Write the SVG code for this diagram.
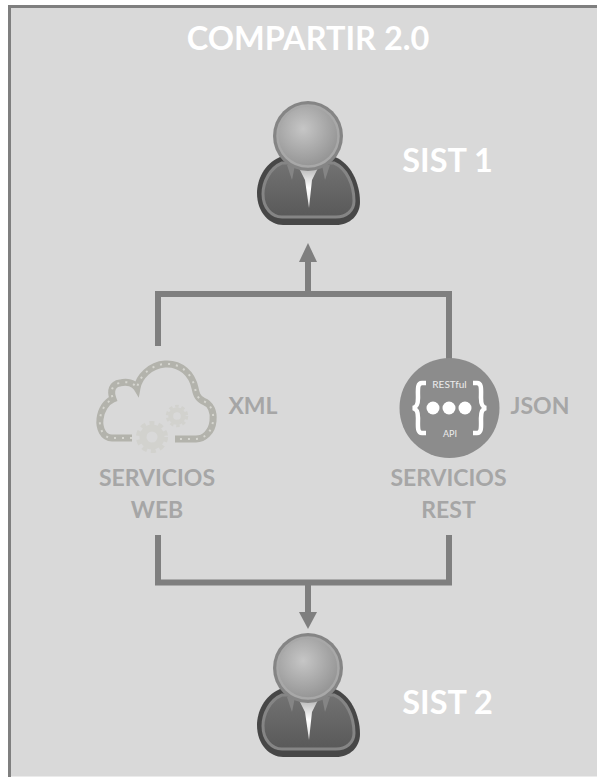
<svg xmlns="http://www.w3.org/2000/svg" width="597" height="777" viewBox="0 0 597 777">
<style>
text{font-family:Lato,"Liberation Sans",sans-serif;font-weight:700;text-anchor:middle}
.w{fill:#fff;font-size:32.500px}
.g{fill:#a6a6a6;font-size:23px}
.s{fill:#ececec;font-weight:400}
.c{fill:none;stroke:#7f7f7f;stroke-width:6}
.a{fill:#7f7f7f}
</style>
<defs>
<radialGradient id="h" cx="0.42" cy="0.38" r="0.65"><stop offset="0" stop-color="#c6c6c6"/><stop offset="1" stop-color="#939393"/></radialGradient>
<linearGradient id="b" x1="0" y1="0" x2="0" y2="1"><stop offset="0" stop-color="#727272"/><stop offset="1" stop-color="#595959"/></linearGradient>
<linearGradient id="t" x1="0" y1="0" x2="0" y2="1"><stop offset="0" stop-color="#b8b8b8"/><stop offset="0.5" stop-color="#fff"/><stop offset="1" stop-color="#ddd"/></linearGradient>
<g id="person">
<path d="M-28 -11C-44 -4-51 12-51 25C-51 45-38 57-25 57H28C42 57 52 47 52 34C52 14 42 -5 27 -11Z" fill="#474747"/>
<path d="M-26 -5C-38 0-45 14-45 26C-45 40-36 49-26 49H28C38 49 46 43 46 33C46 16 38 0 26 -5Z" fill="url(#b)" stroke="#858585" stroke-width="3"/>
<path d="M-9 0L-3 12L1 40L4 12L10 0Z" fill="url(#t)"/>
<path d="M-21 -3L-16 12L-13 -3ZM14 -3L17 12L22 -3Z" fill="#858585"/>
<circle cx="0" cy="-32" r="35" fill="#858585"/>
<circle cx="0" cy="-32" r="30.500" fill="url(#h)" stroke="#a8a8a8" stroke-width="2.500"/>
</g>
<g id="gear"><circle r="9" fill="none" stroke="#d2d2ce" stroke-width="7"/><circle r="14" fill="none" stroke="#d2d2ce" stroke-width="4" stroke-dasharray="5 4"/></g>
</defs>
<rect x="9" y="6" width="588" height="770" fill="#d9d9d9"/>
<path d="M9.500 777V6.500H597" fill="none" stroke="#7f7f7f" stroke-width="3"/>
<path d="M11 776.500H597" stroke="#ebebeb" stroke-width="1"/>
<text class="w" x="308" y="50">COMPARTIR 2.0</text>
<g id="connectors">
<path class="c" d="M158 346V294H449V360"/>
<path class="c" d="M308 294V258"/>
<path class="a" d="M308 243L317 262H299Z"/>
<path class="c" d="M158 535V582.500H449V535"/>
<path class="c" d="M308 582V614"/>
<path class="a" d="M308 629L299 612H317Z"/>
</g>
<g id="sist1"><use href="#person" x="308" y="168"/><text class="w" x="447.500" y="172">SIST 1</text></g>
<g id="sist2"><use href="#person" x="308" y="700"/><text class="w" x="447.500" y="714">SIST 2</text></g>
<g id="web">
<path id="cl" d="M132 438H112C103 438 99 428 100 419C101 410 106 402 113 399C110 391 112 384 120 383C127 381 134 383 137 388C139 377 150 365 165 364C181 363 192 374 195 388C196 393 197 398 203 401C211 404 214 412 213 421C212 432 204 439 196 439H175" fill="none" stroke="#b3b3ac" stroke-width="7"/>
<path d="M132 438H112C103 438 99 428 100 419C101 410 106 402 113 399C110 391 112 384 120 383C127 381 134 383 137 388C139 377 150 365 165 364C181 363 192 374 195 388C196 393 197 398 203 401C211 404 214 412 213 421C212 432 204 439 196 439H175" fill="none" stroke="#d6d6d0" stroke-width="2" stroke-dasharray="2 6"/>
<use href="#gear" transform="translate(152 437)"/>
<use href="#gear" transform="translate(177 416) scale(.7)"/>
<text class="g" x="253" y="414">XML</text>
<text class="g" x="157" y="486">SERVICIOS</text>
<text class="g" x="157" y="518">WEB</text>
</g>
<g id="rest">
<circle cx="449.500" cy="408" r="50" fill="#8c8c8c"/>
<path d="M426 383H422C417 383 418 390 418 398C418 404 417 407 413 408C417 409 418 412 418 418C418 426 417 433 422 433H426M473 383H477C482 383 481 390 481 398C481 404 482 407 486 408C482 409 481 412 481 418C481 426 482 433 477 433H473" fill="none" stroke="#fff" stroke-width="4.500"/>
<circle cx="433" cy="408" r="6.500" fill="#fff"/><circle cx="449" cy="408" r="6.500" fill="#fff"/><circle cx="465" cy="408" r="6.500" fill="#fff"/>
<text class="s" x="449.500" y="388" style="font-size:10px">RESTful</text>
<text class="s" x="450" y="437" style="font-size:9px">API</text>
<text class="g" x="540" y="414">JSON</text>
<text class="g" x="448.500" y="486">SERVICIOS</text>
<text class="g" x="448.500" y="518">REST</text>
</g>
</svg>
